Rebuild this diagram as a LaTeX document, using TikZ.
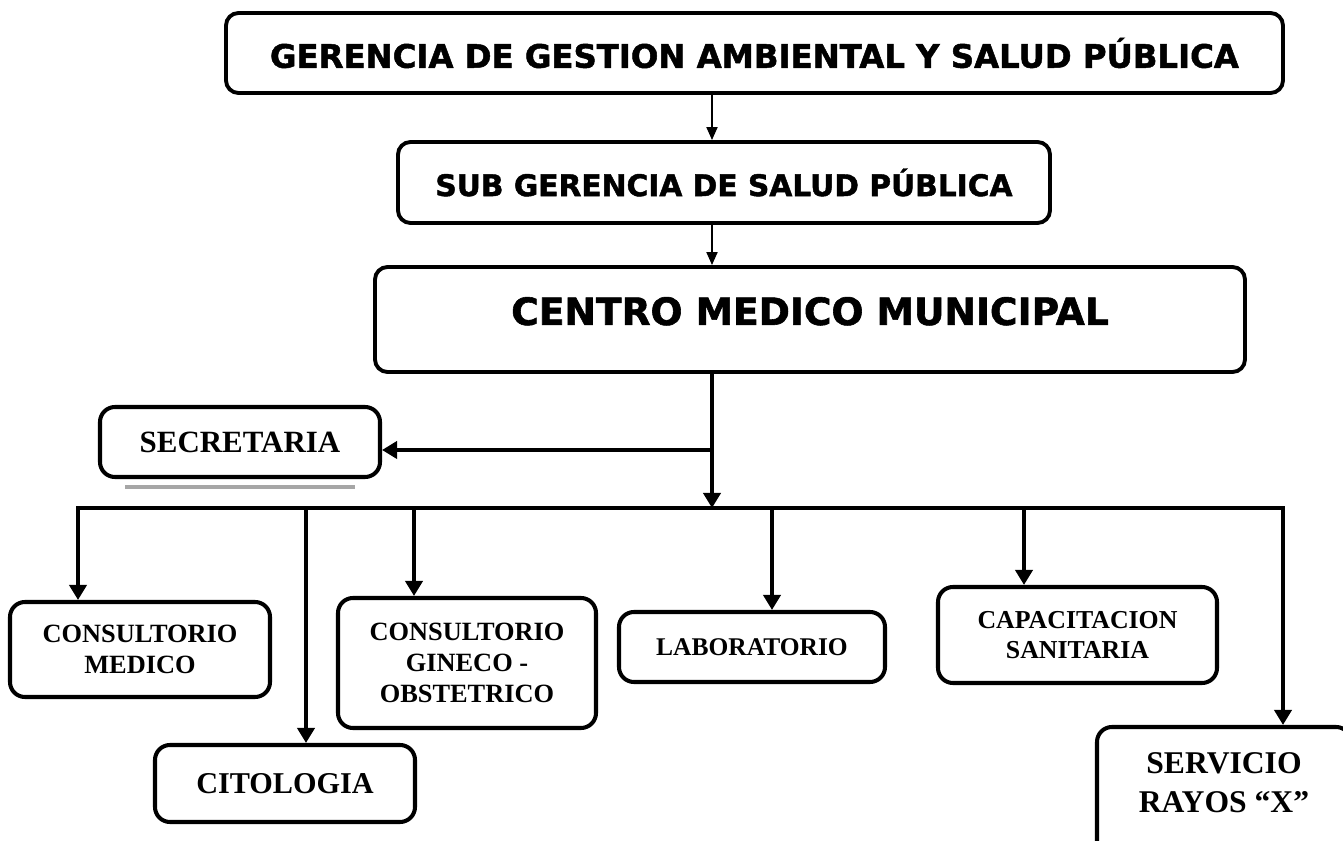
\documentclass[tikz,border=0pt]{standalone}
\usepackage{fontspec}
\setmainfont{Liberation Serif}
\newfontfamily\heavyfont{DejaVu Sans}[BoldFeatures={FakeBold=1.5}]
\usetikzlibrary{arrows.meta}

\begin{document}
\begin{tikzpicture}[
    topbox/.style={draw, line width=2.2pt, rounded corners=0.25cm, font=\heavyfont\bfseries\fontsize{#1}{#1}\selectfont},
    unitbox/.style 2 args={draw, line width=2.3pt, rounded corners=0.3cm, align=center, font=\bfseries\fontsize{#1}{#2}\selectfont},
    thinarrow/.style={line width=1.1pt, -{Triangle[length=0.26cm, width=0.22cm]}},
    thickline/.style={line width=2.8pt, line cap=rect},
    thickarrow/.style={line width=2.8pt, -{Triangle[length=0.3cm, width=0.34cm]}}
]
    \useasboundingbox (0,0) rectangle (26.86,16.82);

    % Upper levels
    \node[topbox=18.4pt, minimum width=21.14cm, minimum height=1.6cm] (ger) at (15.09,15.76) {GERENCIA DE GESTION AMBIENTAL Y SALUD PÚBLICA};
    \node[topbox=16.9pt, minimum width=13.04cm, minimum height=1.62cm] (sub) at (14.48,13.17) {SUB GERENCIA DE SALUD PÚBLICA};
    \node[topbox=21.4pt, minimum width=17.4cm, minimum height=2.1cm, text depth=0.34cm] (cen) at (16.2,10.43) {CENTRO MEDICO MUNICIPAL};

    \coordinate (hub) at (14.24,6.66);
    \draw[thinarrow] (ger.south -| hub) -- (sub.north -| hub);
    \draw[thinarrow] (sub.south -| hub) -- (cen.north -| hub);
    \draw[thickarrow] (cen.south -| hub) -- (hub);

    % Secretaria
    \node[unitbox={17.6pt}{21pt}, minimum width=5.6cm, minimum height=1.4cm] (sec) at (4.8,7.98) {SECRETARIA};
    \draw[gray!70, line width=2pt] (2.5,7.08) -- (7.1,7.08);
    \coordinate (split) at (14.24,7.82);
    \draw[thickarrow] (split) -- (split -| sec.east);

    % Departments
    \node[unitbox={15pt}{17.6pt}, minimum width=5.2cm, minimum height=1.9cm] (med) at (2.8,3.83) {CONSULTORIO\\MEDICO};
    \node[unitbox={17.2pt}{20pt}, minimum width=5.2cm, minimum height=1.54cm] (cit) at (5.7,1.15) {CITOLOGIA};
    \node[unitbox={15pt}{17.6pt}, minimum width=5.16cm, minimum height=2.6cm] (gin) at (9.34,3.56) {CONSULTORIO\\GINECO -\\OBSTETRICO};
    \node[unitbox={14.5pt}{17pt}, minimum width=5.32cm, minimum height=1.4cm] (lab) at (15.04,3.88) {LABORATORIO};
    \node[unitbox={14.7pt}{17pt}, minimum width=5.58cm, minimum height=1.92cm] (cap) at (21.55,4.12) {CAPACITACION\\SANITARIA};
    \node[unitbox={18pt}{22.2pt}, minimum width=5.08cm, minimum height=2.6cm, text depth=0.36cm] (ray) at (24.48,0.98) {SERVICIO\\RAYOS “X”};

    % Bus and drops
    \coordinate (busL) at (1.56,6.66);
    \coordinate (busR) at (25.66,6.66);
    \draw[thickline] (busL) -- (busR);
    \foreach \n/\x in {med/1.56, cit/6.12, gin/8.28, lab/15.44, cap/20.48, ray/25.66} {
        \coordinate (d\n) at (\x,6.66);
        \draw[thickarrow] (d\n) -- (d\n |- \n.north);
    }
\end{tikzpicture}
\end{document}
